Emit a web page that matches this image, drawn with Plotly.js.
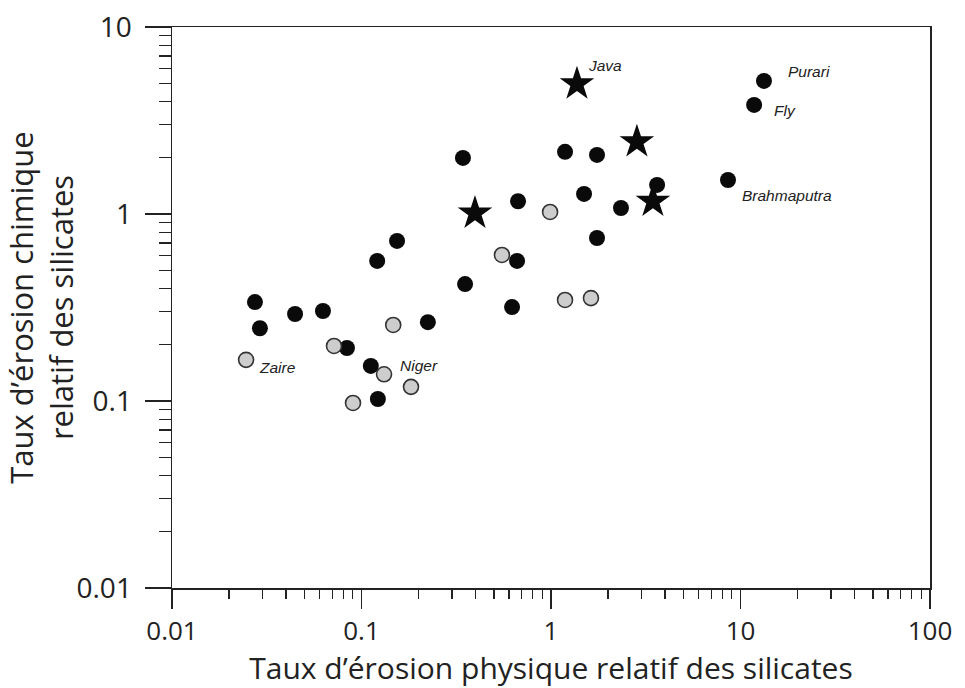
<!DOCTYPE html>
<html>
<head>
<meta charset="utf-8">
<script src="https://cdn.plot.ly/plotly-3.0.1.min.js"></script>
<style>html,body{margin:0;padding:0;background:#fff;}#chart{width:965px;height:688px;}</style>
</head>
<body>
<div id="chart"></div>
<script>
// Black circles: rivers
const blackX = [0.0274, 0.0291, 0.0446, 0.0626, 0.0838, 0.112, 0.122, 0.121, 0.154, 0.224, 0.343, 0.352, 0.623, 0.662, 0.67, 1.186, 1.494, 1.749, 1.749, 2.34, 3.63, 8.59, 11.8, 13.3];
const blackY = [0.338, 0.245, 0.292, 0.303, 0.192, 0.154, 0.1025, 0.561, 0.718, 0.264, 1.995, 0.422, 0.318, 0.561, 1.17, 2.15, 1.28, 2.07, 0.744, 1.077, 1.43, 1.52, 3.83, 5.15];
const blackLabels = ["", "", "", "", "", "", "", "", "", "", "", "", "", "", "", "", "", "", "", "", "", "Brahmaputra", "Fly", "Purari"];

// Gray (stippled) circles
const grayX = [0.0246, 0.0716, 0.0902, 0.1315, 0.147, 0.1825, 0.551, 0.989, 1.186, 1.625];
const grayY = [0.166, 0.197, 0.0976, 0.139, 0.255, 0.119, 0.604, 1.025, 0.347, 0.355];
const grayLabels = ["Zaire", "", "", "Niger", "", "", "", "", "", ""];

// Stars: volcanic islands
const starX = [0.397, 1.371, 2.84, 3.45];
const starY = [1.01, 4.96, 2.43, 1.17];
const starLabels = ["", "Java", "", ""];

// Axis ticks
const majorVals = [0.01, 0.1, 1, 10, 100];
const majorText = ["0.01", "0.1", "1", "10", "100"];
const xTitle = "Taux d’érosion physique relatif des silicates";
const yTitle = "Taux d’érosion chimique<br>relatif des silicates";

// label offsets (pixels) keyed by label name
const labelShift = {
  "Java": [9, 18], "Purari": [22, 9], "Fly": [18, -6],
  "Brahmaputra": [12, -15], "Zaire": [11, -8], "Niger": [14, 9]
};

const minorVals = [];
[0.01, 0.1, 1, 10].forEach(d => { for (let k = 2; k <= 9; k++) minorVals.push(+(d * k).toPrecision(3)); });
const yMinor = minorVals.filter(v => v < 10);

const traces = [
  { x: blackX, y: blackY, type: 'scatter', mode: 'markers', name: 'black',
    marker: { symbol: 'circle', size: 16, color: '#0a0a0a', line: { width: 0 } } },
  { x: grayX, y: grayY, type: 'scatter', mode: 'markers', name: 'gray',
    marker: { symbol: 'circle', size: 15, color: '#cdcdcd', line: { width: 1.6, color: '#333' } } },
  { x: starX, y: starY, type: 'scatter', mode: 'markers', name: 'star',
    marker: { symbol: 'star', size: 26, color: '#0a0a0a', line: { width: 0 } } }
];

const annotations = [];
function addLabels(xs, ys, labels) {
  labels.forEach((t, i) => {
    if (!t) return;
    const s = labelShift[t] || [10, 0];
    annotations.push({ x: Math.log10(xs[i]), y: Math.log10(ys[i]), xref: 'x', yref: 'y', text: t,
      showarrow: false, xanchor: 'left', yanchor: 'middle', xshift: s[0], yshift: s[1],
      font: { family: 'Liberation Sans, Arial', size: 15.5, color: '#222', style: 'italic' } });
  });
}
addLabels(blackX, blackY, blackLabels);
addLabels(grayX, grayY, grayLabels);
addLabels(starX, starY, starLabels);

const axisCommon = {
  type: 'log', showgrid: false, zeroline: false, showline: true, linecolor: '#222', linewidth: 1.5,
  mirror: true, ticks: 'outside', tickcolor: '#222', tickwidth: 1.3,
  tickmode: 'array', tickvals: majorVals, ticktext: majorText
};

const layout = {
  width: 965, height: 688,
  margin: { l: 172, r: 35, t: 27, b: 100 },
  paper_bgcolor: '#fff', plot_bgcolor: '#fff',
  showlegend: false,
  xaxis: Object.assign({}, axisCommon, {
    range: [-2, 2], ticklen: 19,
    tickfont: { family: 'Open Sans', size: 26, color: '#222' },
    minor: { tickmode: 'array', tickvals: minorVals, ticks: 'outside', ticklen: 9, tickcolor: '#222', tickwidth: 1.2 },
    title: { text: xTitle, font: { family: 'Open Sans', size: 30, color: '#222' }, standoff: 5 }
  }),
  yaxis: Object.assign({}, axisCommon, {
    range: [-2, 1], ticklen: 26, ticklabelstandoff: 7,
    tickvals: majorVals.slice(0, 4), ticktext: majorText.slice(0, 4),
    tickfont: { family: 'Open Sans', size: 28, color: '#222' },
    minor: { tickmode: 'array', tickvals: yMinor, ticks: 'outside', ticklen: 12, tickcolor: '#222', tickwidth: 1.2 },
    title: { text: yTitle, font: { family: 'Open Sans', size: 31, color: '#222' }, standoff: 6 }
  }),
  annotations: annotations
};

Plotly.newPlot('chart', traces, layout, { displayModeBar: false, staticPlot: true });
</script>
</body>
</html>
